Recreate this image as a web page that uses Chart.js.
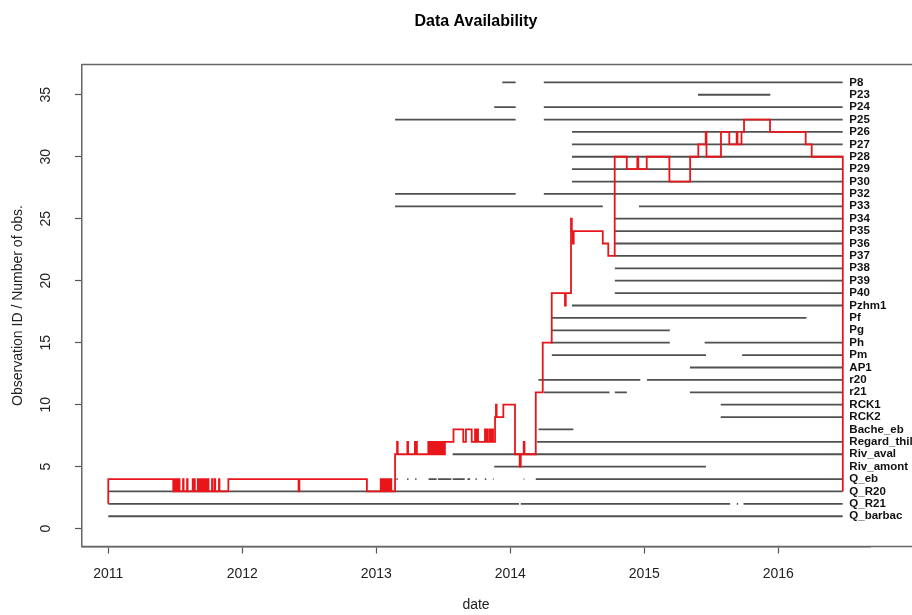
<!DOCTYPE html>
<html>
<head>
<meta charset="utf-8">
<title>Data Availability</title>
<script src="https://cdn.jsdelivr.net/npm/chart.js@4.4.1/dist/chart.umd.min.js"></script>
<style>
  html, body { margin: 0; padding: 0; background: #fff; }
</style>
</head>
<body>
<canvas id="availChart" width="912" height="615"></canvas>
<script>
// --- data (dates as decimal years) ---
const chartTitle = 'Data Availability';
const xTicks = [2011, 2012, 2013, 2014, 2015, 2016];
const yTicks = [0, 5, 10, 15, 20, 25, 30, 35];

// observation names, ID 1 .. 36
const obsNames = [
  'Q_barbac', 'Q_R21', 'Q_R20', 'Q_eb', 'Riv_amont', 'Riv_aval', 'Regard_thil', 'Bache_eb',
  'RCK2', 'RCK1', 'r21', 'r20', 'AP1', 'Pm', 'Ph', 'Pg', 'Pf', 'Pzhm1',
  'P40', 'P39', 'P38', 'P37', 'P36', 'P35', 'P34', 'P33', 'P32',
  'P30', 'P29', 'P28', 'P27', 'P26', 'P25', 'P24', 'P23', 'P8'
];

// periods with data for each observation [start, end]
const obsPeriods = [
  [[2011.0, 2016.48]],
  [[2011.0, 2014.065], [2014.078, 2015.64], [2015.69, 2015.70], [2015.74, 2016.48]],
  [[2011.0, 2016.48]],
  [[2013.15, 2013.16], [2013.23, 2013.24], [2013.29, 2013.30], [2013.39, 2013.45], [2013.46, 2013.56],
   [2013.57, 2013.66], [2013.68, 2013.70], [2013.74, 2013.75], [2013.81, 2013.82], [2013.85, 2013.855],
   [2013.87, 2013.875], [2014.10, 2014.105], [2014.19, 2016.48]],
  [[2013.88, 2015.46]],
  [[2013.57, 2016.48]],
  [[2014.20, 2016.48]],
  [[2014.21, 2014.47]],
  [[2015.57, 2016.48]],
  [[2015.57, 2016.48]],
  [[2014.25, 2014.74], [2014.78, 2014.87], [2015.34, 2016.48]],
  [[2014.21, 2014.97], [2015.02, 2016.48]],
  [[2015.34, 2016.48]],
  [[2014.31, 2015.46], [2015.73, 2016.48]],
  [[2014.30, 2015.19], [2015.45, 2016.48]],
  [[2014.31, 2015.19]],
  [[2014.31, 2016.21]],
  [[2014.46, 2016.48]],
  [[2014.78, 2016.48]],
  [[2014.78, 2016.48]],
  [[2014.78, 2016.48]],
  [[2014.78, 2016.48]],
  [[2014.78, 2016.48]],
  [[2014.78, 2016.48]],
  [[2014.78, 2016.48]],
  [[2013.14, 2014.69], [2014.96, 2016.48]],
  [[2013.14, 2014.04], [2014.25, 2016.48]],
  [[2014.46, 2016.48]],
  [[2014.46, 2016.48]],
  [[2014.46, 2016.48]],
  [[2014.46, 2016.48]],
  [[2014.46, 2016.48]],
  [[2013.14, 2014.04], [2014.25, 2016.48]],
  [[2013.88, 2014.04], [2014.25, 2016.48]],
  [[2015.40, 2015.94]],
  [[2013.94, 2014.04], [2014.25, 2016.48]]
];

// number of observations: date of each change and the new count
const countDates = [
  2011.000, 2011.000, 2011.485, 2011.488, 2011.492, 2011.497, 2011.501, 2011.506, 2011.510, 2011.516,
  2011.520, 2011.528, 2011.532, 2011.558, 2011.562, 2011.588, 2011.592, 2011.630, 2011.634, 2011.642,
  2011.646, 2011.668, 2011.672, 2011.678, 2011.682, 2011.688, 2011.692, 2011.698, 2011.702, 2011.712,
  2011.716, 2011.727, 2011.731, 2011.744, 2011.748, 2011.774, 2011.778, 2011.794, 2011.798, 2011.826,
  2011.830, 2011.896, 2012.420, 2012.426, 2012.930, 2013.033, 2013.037, 2013.045, 2013.049, 2013.057,
  2013.061, 2013.069, 2013.073, 2013.082, 2013.086, 2013.096, 2013.100, 2013.108, 2013.112, 2013.140,
  2013.155, 2013.160, 2013.232, 2013.237, 2013.288, 2013.293, 2013.298, 2013.303, 2013.388, 2013.393,
  2013.398, 2013.403, 2013.408, 2013.413, 2013.418, 2013.423, 2013.428, 2013.433, 2013.438, 2013.443,
  2013.448, 2013.453, 2013.458, 2013.463, 2013.468, 2013.473, 2013.478, 2013.483, 2013.488, 2013.493,
  2013.498, 2013.503, 2013.512, 2013.576, 2013.649, 2013.669, 2013.712, 2013.737, 2013.742, 2013.754,
  2013.759, 2013.811, 2013.816, 2013.828, 2013.833, 2013.848, 2013.853, 2013.866, 2013.871, 2013.886,
  2013.893, 2013.898, 2013.948, 2014.035, 2014.070, 2014.078, 2014.100, 2014.106, 2014.190, 2014.242,
  2014.309, 2014.408, 2014.414, 2014.453, 2014.459, 2014.467, 2014.473, 2014.690, 2014.731, 2014.779,
  2014.869, 2014.948, 2014.955, 2015.018, 2015.187, 2015.342, 2015.403, 2015.458, 2015.464, 2015.572,
  2015.634, 2015.689, 2015.695, 2015.725, 2015.744, 2015.938, 2016.204, 2016.249, 2016.481
];
const countValues = [
  2, 4, 3, 4, 3, 4, 3, 4, 3, 4,
  3, 4, 3, 4, 3, 4, 3, 4, 3, 4,
  3, 4, 3, 4, 3, 4, 3, 4, 3, 4,
  3, 4, 3, 4, 3, 4, 3, 4, 3, 4,
  3, 4, 3, 4, 3, 4, 3, 4, 3, 4,
  3, 4, 3, 4, 3, 4, 3, 4, 3, 6,
  7, 6, 7, 6, 7, 6, 7, 6, 7, 6,
  7, 6, 7, 6, 7, 6, 7, 6, 7, 6,
  7, 6, 7, 6, 7, 6, 7, 6, 7, 6,
  7, 6, 7, 8, 7, 8, 7, 8, 7, 8,
  7, 8, 7, 8, 7, 8, 7, 8, 7, 9,
  10, 9, 10, 6, 5, 6, 7, 6, 11, 15,
  19, 18, 19, 25, 24, 23, 24, 23, 22, 30,
  29, 30, 29, 30, 28, 30, 31, 32, 30, 32,
  31, 32, 31, 32, 33, 32, 31, 30, 3
];

// --- chart ---
const axisFont = { family: "'Liberation Sans', Arial, sans-serif", size: 14 };
const labelFont = "bold 11.5px 'Liberation Sans', Arial, sans-serif";

// one dataset per observation, gaps as null points
const segmentSets = obsNames.map((name, i) => {
  const pts = [];
  obsPeriods[i].forEach(([s, e], k) => {
    if (k > 0) pts.push({ x: s, y: null });
    pts.push({ x: s, y: i + 1 }, { x: e, y: i + 1 });
  });
  return {
    label: name,
    data: pts,
    borderColor: '#505050',
    borderWidth: 1.8,
    pointRadius: 0,
    spanGaps: false,
    order: 2
  };
});

const countSet = {
  label: 'Number of obs.',
  data: countDates.map((d, i) => ({ x: d, y: countValues[i] })),
  stepped: true,
  borderColor: '#e8151b',
  borderWidth: 1.8,
  pointRadius: 0,
  order: 1
};

// title, frame lines running to the right edge, and observation names
const decorPlugin = {
  id: 'decor',
  beforeDatasetsDraw(chart) {
    const { ctx, chartArea, width } = chart;
    ctx.save();
    ctx.strokeStyle = '#666';
    ctx.lineWidth = 1.5;
    ctx.beginPath();
    ctx.moveTo(chartArea.left, chartArea.top);
    ctx.lineTo(width, chartArea.top);
    ctx.moveTo(chartArea.left, chartArea.bottom);
    ctx.lineTo(width, chartArea.bottom);
    ctx.stroke();
    ctx.restore();
  },
  afterDatasetsDraw(chart) {
    const { ctx, chartArea, scales } = chart;
    ctx.save();
    ctx.fillStyle = '#000';
    ctx.font = "bold 16px 'Liberation Sans', Arial, sans-serif";
    ctx.textAlign = 'center';
    ctx.textBaseline = 'middle';
    ctx.fillText(chartTitle, (chartArea.left + chartArea.right) / 2, 22);

    ctx.font = labelFont;
    ctx.fillStyle = '#111';
    ctx.textAlign = 'left';
    const lx = scales.x.getPixelForValue(2016.53);
    obsNames.forEach((name, i) => {
      ctx.fillText(name, lx, scales.y.getPixelForValue(i + 1));
    });
    ctx.restore();
  }
};

new Chart(document.getElementById('availChart'), {
  type: 'line',
  data: { datasets: [countSet, ...segmentSets] },
  options: {
    responsive: false,
    animation: false,
    events: [],
    layout: { padding: { top: 64.5, right: 42, left: 0, bottom: 0 } },
    plugins: { legend: { display: false }, tooltip: { enabled: false }, title: { display: false } },
    scales: {
      x: {
        type: 'linear',
        min: 2010.804,
        max: 2016.684,
        afterBuildTicks: s => { s.ticks = xTicks.map(v => ({ value: v })); },
        afterFit: s => { s.height = 68.5; },
        grid: { drawOnChartArea: false, tickLength: 7, tickColor: '#555', tickWidth: 1.2 },
        border: { display: true, color: '#666', width: 1.5 },
        ticks: { maxRotation: 0, padding: 12, color: '#222', font: axisFont, callback: v => String(v) },
        title: { display: true, text: 'date', color: '#222', font: axisFont, padding: { top: 0, bottom: 1.6 } }
      },
      y: {
        type: 'linear',
        min: -1.44,
        max: 37.44,
        afterBuildTicks: s => { s.ticks = yTicks.map(v => ({ value: v })); },
        afterFit: s => { s.width = 82; },
        grid: { drawOnChartArea: false, tickLength: 7, tickColor: '#555', tickWidth: 1.2 },
        border: { display: true, color: '#666', width: 1.5 },
        ticks: { minRotation: 90, maxRotation: 90, crossAlign: 'center', padding: 21, color: '#222', font: axisFont },
        title: { display: true, text: 'Observation ID / Number of obs.', color: '#222', font: axisFont, padding: { top: 9.6, bottom: 0 } }
      }
    }
  },
  plugins: [decorPlugin]
});
</script>
</body>
</html>
